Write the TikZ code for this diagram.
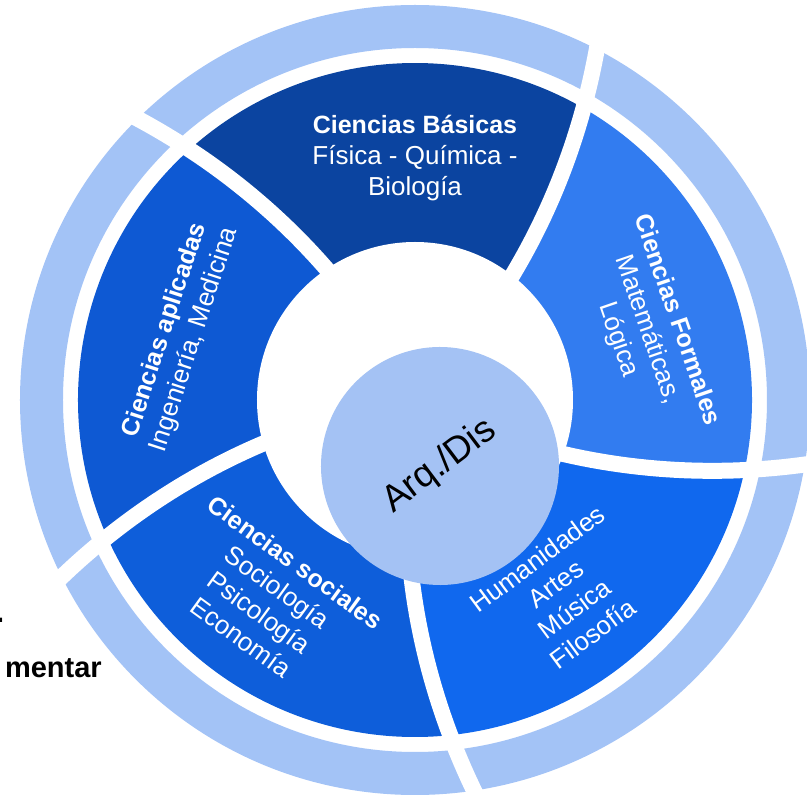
\documentclass[tikz,border=0pt]{standalone}
\usepackage{fontspec}
\setmainfont{Liberation Sans}
\usepackage{xcolor}
\usetikzlibrary{positioning}
\definecolor{ringblue}{HTML}{A3C3F6}
\definecolor{coreblue}{HTML}{A4C2F4}
\definecolor{basicblue}{HTML}{0B44A0}
\definecolor{formalblue}{HTML}{327CF0}
\definecolor{humanblue}{HTML}{1068EE}
\definecolor{socialblue}{HTML}{0E5EDA}
\definecolor{appliedblue}{HTML}{0E59D3}
\newcommand{\headline}[1]{{\fontsize{25}{31}\selectfont\bfseries #1}}
\tikzset{x=1pt, y=1pt,
         sector text/.style={text=white, align=center, inner sep=0pt,
                             font=\fontsize{26}{31}\selectfont},
         gap line/.style={white, line width=16pt},
         cut text/.style={inner sep=0pt, font=\fontsize{29}{29}\selectfont\bfseries},
         }

\begin{document}
\begin{tikzpicture}
    \useasboundingbox (-415,-400) rectangle (392,400);
    % outer ring
    \fill[ringblue, even odd rule] (0,0) circle[radius=395] (0,0) circle[radius=352];
    % five sectors, boundaries turn a little when going out
    \foreach \a/\col in {52/basicblue, 124/appliedblue, 196/socialblue, 268/humanblue, 340/formalblue} {
        \fill[\col] (0,0) -- plot[domain=150:337, samples=25] ({\a+8*(\x-158)/179}:{\x})
            arc[start angle={\a+8}, end angle={\a+80}, radius=337]
            -- plot[domain=337:150, samples=25] ({\a+72+8*(\x-158)/179}:{\x}) -- cycle;
    }
    \foreach \a in {52,124,196,268,340}
        \draw[gap line] plot[domain=140:410, samples=30] ({\a+8*(\x-158)/179}:{\x});
    \fill[white] (0,0) circle[radius=158];

    \node[circle, fill=coreblue, minimum size=238pt, inner sep=0pt, rotate=37,
          font=\fontsize{37}{37}\selectfont] (core) at (25,-66) {Arq./Dis};

    \node[sector text] (basicas) at (0,242)
        {\headline{Ciencias Básicas}\\Física - Química -\\Biología};
    \node[sector text, rotate=-71] (formales) at (232,70)
        {\headline{Ciencias Formales}\\Matemáticas,\\Lógica};
    \node[sector text, rotate=72] (aplicadas) at (-235,65)
        {\headline{Ciencias aplicadas}\\Ingeniería, Medicina};
    \node[sector text, rotate=-36] (sociales) at (-147,-200)
        {\headline{Ciencias sociales}\\Sociología\\Psicología\\Economía};
    \node[sector text, rotate=36.5] (humanidades) at (150,-196)
        {Humanidades\\Artes\\Música\\Filosofía};

    % cut text at the left border
    \node[cut text, anchor=base west] (punto) at (-419,-223) {.};
    \node[cut text, anchor=base east] (mentar) at (-313,-278) {mentar};
\end{tikzpicture}
\end{document}
